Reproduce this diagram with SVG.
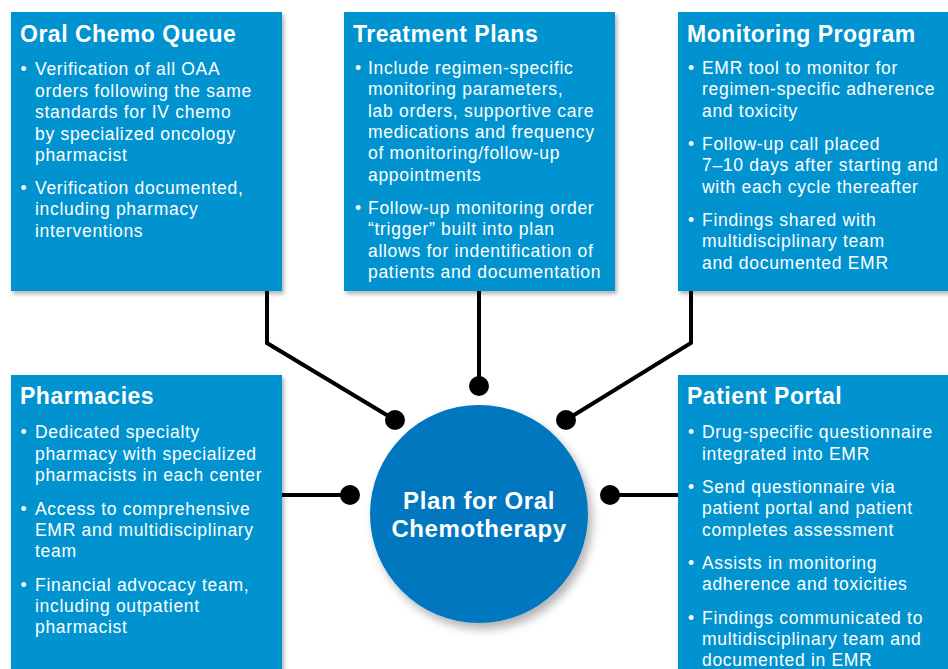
<svg xmlns="http://www.w3.org/2000/svg" width="948" height="669" viewBox="0 0 948 669">
<defs>
<filter id="sh" x="-10%" y="-10%" width="125%" height="125%">
<feDropShadow dx="2" dy="3" stdDeviation="2" flood-color="#000" flood-opacity="0.3"/>
</filter>
<filter id="csh" x="-20%" y="-20%" width="150%" height="150%">
<feDropShadow dx="4" dy="6" stdDeviation="5" flood-color="#000" flood-opacity="0.3"/>
</filter>
<style>
.box{fill:#0093D0;filter:url(#sh)}
.title{font-family:"Liberation Sans",Arial,sans-serif;font-weight:bold;font-size:23px;letter-spacing:0.5px;fill:#fff}
.body{font-family:"Liberation Sans",Arial,sans-serif;font-size:17.5px;letter-spacing:0.7px;fill:#fff}
.conn{stroke:#000;stroke-width:4;fill:none;stroke-linejoin:miter}
.dot{fill:#000}
.ctext{font-family:"Liberation Sans",Arial,sans-serif;font-weight:bold;font-size:24px;letter-spacing:0.6px;fill:#fff;text-anchor:middle}
</style>
</defs>
<rect width="948" height="669" fill="#fff"/>

<g id="connectors">
<polyline class="conn" points="267,290 267,343 395,420"/>
<circle class="dot" cx="395" cy="420" r="10"/>
<line class="conn" x1="479" y1="290" x2="479" y2="386"/>
<circle class="dot" cx="479" cy="386" r="10"/>
<polyline class="conn" points="691,290 691,343 566,420"/>
<circle class="dot" cx="566" cy="420" r="10"/>
<line class="conn" x1="280" y1="495" x2="350" y2="495"/>
<circle class="dot" cx="350" cy="495" r="10"/>
<line class="conn" x1="610" y1="495" x2="680" y2="495"/>
<circle class="dot" cx="610" cy="495" r="10"/>
</g>

<g id="oral-chemo-queue">
<rect class="box" x="11" y="12" width="271" height="279"/>
<text class="title" x="20" y="42">Oral Chemo Queue</text>
<text class="body">
<tspan x="20.5" y="75">•</tspan><tspan x="35" y="75">Verification of all OAA</tspan>
<tspan x="35" y="96.5">orders following the same</tspan>
<tspan x="35" y="118">standards for IV chemo</tspan>
<tspan x="35" y="139.5">by specialized oncology</tspan>
<tspan x="35" y="161">pharmacist</tspan>
<tspan x="20.5" y="194">•</tspan><tspan x="35" y="194">Verification documented,</tspan>
<tspan x="35" y="215.3">including pharmacy</tspan>
<tspan x="35" y="236.6">interventions</tspan>
</text>
</g>

<g id="treatment-plans">
<rect class="box" x="344" y="12" width="271" height="279"/>
<text class="title" x="353" y="42">Treatment Plans</text>
<text class="body">
<tspan x="355" y="74">•</tspan><tspan x="368" y="74">Include regimen-specific</tspan>
<tspan x="368" y="95.3">monitoring parameters,</tspan>
<tspan x="368" y="116.6">lab orders, supportive care</tspan>
<tspan x="368" y="137.9">medications and frequency</tspan>
<tspan x="368" y="159.2">of monitoring/follow-up</tspan>
<tspan x="368" y="180.5">appointments</tspan>
<tspan x="355" y="214">•</tspan><tspan x="368" y="214">Follow-up monitoring order</tspan>
<tspan x="368" y="235.3">“trigger” built into plan</tspan>
<tspan x="368" y="256.6">allows for indentification of</tspan>
<tspan x="368" y="277.9">patients and documentation</tspan>
</text>
</g>

<g id="monitoring-program">
<rect class="box" x="678" y="12" width="280" height="279"/>
<text class="title" x="687" y="42">Monitoring Program</text>
<text class="body">
<tspan x="688" y="74">•</tspan><tspan x="702" y="74">EMR tool to monitor for</tspan>
<tspan x="702" y="95.3">regimen-specific adherence</tspan>
<tspan x="702" y="116.6">and toxicity</tspan>
<tspan x="688" y="150">•</tspan><tspan x="702" y="150">Follow-up call placed</tspan>
<tspan x="702" y="171.3">7–10 days after starting and</tspan>
<tspan x="702" y="192.6">with each cycle thereafter</tspan>
<tspan x="688" y="226">•</tspan><tspan x="702" y="226">Findings shared with</tspan>
<tspan x="702" y="247.3">multidisciplinary team</tspan>
<tspan x="702" y="268.6">and documented EMR</tspan>
</text>
</g>

<g id="pharmacies">
<rect class="box" x="11" y="375" width="271" height="310"/>
<text class="title" x="20" y="403.5">Pharmacies</text>
<text class="body">
<tspan x="20.5" y="438.3">•</tspan><tspan x="35" y="438.3">Dedicated specialty</tspan>
<tspan x="35" y="459.6">pharmacy with specialized</tspan>
<tspan x="35" y="480.9">pharmacists in each center</tspan>
<tspan x="20.5" y="514.5">•</tspan><tspan x="35" y="514.5">Access to comprehensive</tspan>
<tspan x="35" y="535.8">EMR and multidisciplinary</tspan>
<tspan x="35" y="557.1">team</tspan>
<tspan x="20.5" y="590.7">•</tspan><tspan x="35" y="590.7">Financial advocacy team,</tspan>
<tspan x="35" y="612">including outpatient</tspan>
<tspan x="35" y="633.3">pharmacist</tspan>
</text>
</g>

<g id="patient-portal">
<rect class="box" x="678" y="375" width="280" height="310"/>
<text class="title" x="687" y="403.5">Patient Portal</text>
<text class="body">
<tspan x="688" y="438.3">•</tspan><tspan x="702" y="438.3">Drug-specific questionnaire</tspan>
<tspan x="702" y="459.6">integrated into EMR</tspan>
<tspan x="688" y="493">•</tspan><tspan x="702" y="493">Send questionnaire via</tspan>
<tspan x="702" y="514.3">patient portal and patient</tspan>
<tspan x="702" y="535.6">completes assessment</tspan>
<tspan x="688" y="569">•</tspan><tspan x="702" y="569">Assists in monitoring</tspan>
<tspan x="702" y="590.3">adherence and toxicities</tspan>
<tspan x="688" y="623.7">•</tspan><tspan x="702" y="623.7">Findings communicated to</tspan>
<tspan x="702" y="645">multidisciplinary team and</tspan>
<tspan x="702" y="666.3">documented in EMR</tspan>
</text>
</g>

<g id="plan-for-oral-chemotherapy">
<circle cx="479" cy="514" r="109" fill="#0277BE" filter="url(#csh)"/>
<text class="ctext" x="479" y="508.5">Plan for Oral</text>
<text class="ctext" x="479" y="537">Chemotherapy</text>
</g>
</svg>
